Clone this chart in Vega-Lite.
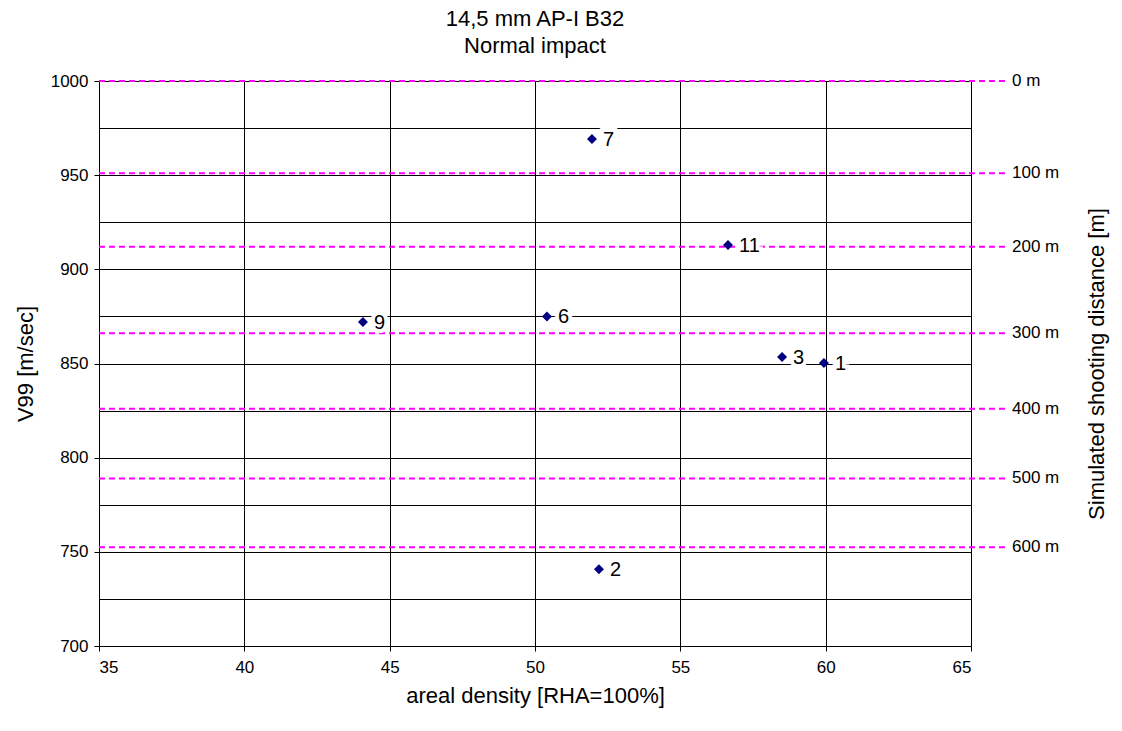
{
  "$schema": "https://vega.github.io/schema/vega-lite/v6.json",
  "width": 872,
  "height": 565,
  "autosize": {"type": "none"},
  "padding": {"left": 99, "top": 81, "right": 151, "bottom": 85},
  "background": "white",
  "config": {
    "font": "Liberation Sans",
    "view": {"stroke": null},
    "axis": {"labelColor": "black", "titleColor": "black", "titleFontWeight": "normal", "domainColor": "black", "tickColor": "black"}
  },
  "title": {
    "text": ["14,5 mm AP-I B32", "Normal impact"],
    "fontSize": 22,
    "fontWeight": "normal",
    "color": "black",
    "anchor": "middle",
    "lineHeight": 27,
    "offset": 14
  },
  "datasets": {
    "points": [
      {"density": 59.94, "v99": 850.3, "label": "1"},
      {"density": 52.2, "v99": 740.8, "label": "2"},
      {"density": 58.5, "v99": 853.4, "label": "3"},
      {"density": 50.41, "v99": 875.0, "label": "6"},
      {"density": 51.96, "v99": 969.2, "label": "7"},
      {"density": 44.08, "v99": 872.0, "label": "9"},
      {"density": 56.64, "v99": 912.9, "label": "11"}
    ],
    "dist": [
      {"v": 1000, "label": "0 m"},
      {"v": 951, "label": "100 m"},
      {"v": 912, "label": "200 m"},
      {"v": 866, "label": "300 m"},
      {"v": 826, "label": "400 m"},
      {"v": 789, "label": "500 m"},
      {"v": 752.5, "label": "600 m"}
    ]
  },
  "layer": [
    {
      "data": {"name": "dist"},
      "layer": [
        {
          "mark": {"type": "rule", "color": "#FF00FF", "strokeDash": [6, 4], "strokeWidth": 2},
          "encoding": {
            "x": {"datum": 35, "type": "quantitative", "scale": {"domain": [35, 65]}},
            "x2": {"datum": 66.17}
          }
        },
        {
          "mark": {"type": "text", "align": "left", "baseline": "middle", "fontSize": 17, "color": "black"},
          "encoding": {
            "x": {"datum": 66.41, "type": "quantitative"},
            "text": {"field": "label"}
          }
        }
      ],
      "encoding": {
        "y": {
          "field": "v",
          "type": "quantitative",
          "scale": {"domain": [700, 1000]},
          "axis": {
            "orient": "right",
            "title": "Simulated shooting distance [m]",
            "titleFontSize": 22,
            "titleAngle": 270,
            "titlePadding": 137,
            "labels": false,
            "ticks": false,
            "domain": false,
            "grid": false
          }
        }
      }
    },
    {
      "data": {"name": "points"},
      "encoding": {
        "x": {
          "field": "density",
          "type": "quantitative",
          "scale": {"domain": [35, 65], "nice": false, "zero": false},
          "axis": {
            "values": [35, 40, 45, 50, 55, 60, 65],
            "title": "areal density [RHA=100%]",
            "titleFontSize": 22,
            "titlePadding": 10,
            "labelFontSize": 17,
            "labelPadding": 8,
            "tickSize": 5,
            "grid": true,
            "gridColor": "black",
            "gridOpacity": 1,
            "gridWidth": 1
          }
        },
        "y": {
          "field": "v99",
          "type": "quantitative",
          "scale": {"domain": [700, 1000], "nice": false, "zero": false},
          "axis": {
            "orient": "left",
            "values": [700, 725, 750, 775, 800, 825, 850, 875, 900, 925, 950, 975, 1000],
            "format": "d",
            "labelExpr": "datum.value % 50 == 0 ? datum.label : ''",
            "tickOpacity": {"condition": {"test": "datum.value % 50 != 0", "value": 0}, "value": 1},
            "title": "V99 [m/sec]",
            "titleFontSize": 22,
            "titlePadding": 13,
            "labelFontSize": 17,
            "labelPadding": 6,
            "tickSize": 5,
            "grid": true,
            "gridColor": "black",
            "gridOpacity": 1,
            "gridWidth": 1
          }
        }
      },
      "layer": [
        {
          "mark": {"type": "text", "align": "left", "baseline": "middle", "fontSize": 20, "dx": 11, "dy": 1, "color": "white", "stroke": "white", "strokeWidth": 8, "strokeJoin": "miter"},
          "encoding": {"text": {"field": "label"}}
        },
        {
          "mark": {"type": "point", "shape": "diamond", "filled": true, "color": "#000080", "size": 100, "opacity": 1},
          "encoding": {}
        },
        {
          "mark": {"type": "text", "align": "left", "baseline": "middle", "fontSize": 20, "dx": 11, "dy": 1, "color": "black"},
          "encoding": {"text": {"field": "label"}}
        }
      ]
    }
  ],
  "resolve": {"scale": {"y": "independent"}}
}
